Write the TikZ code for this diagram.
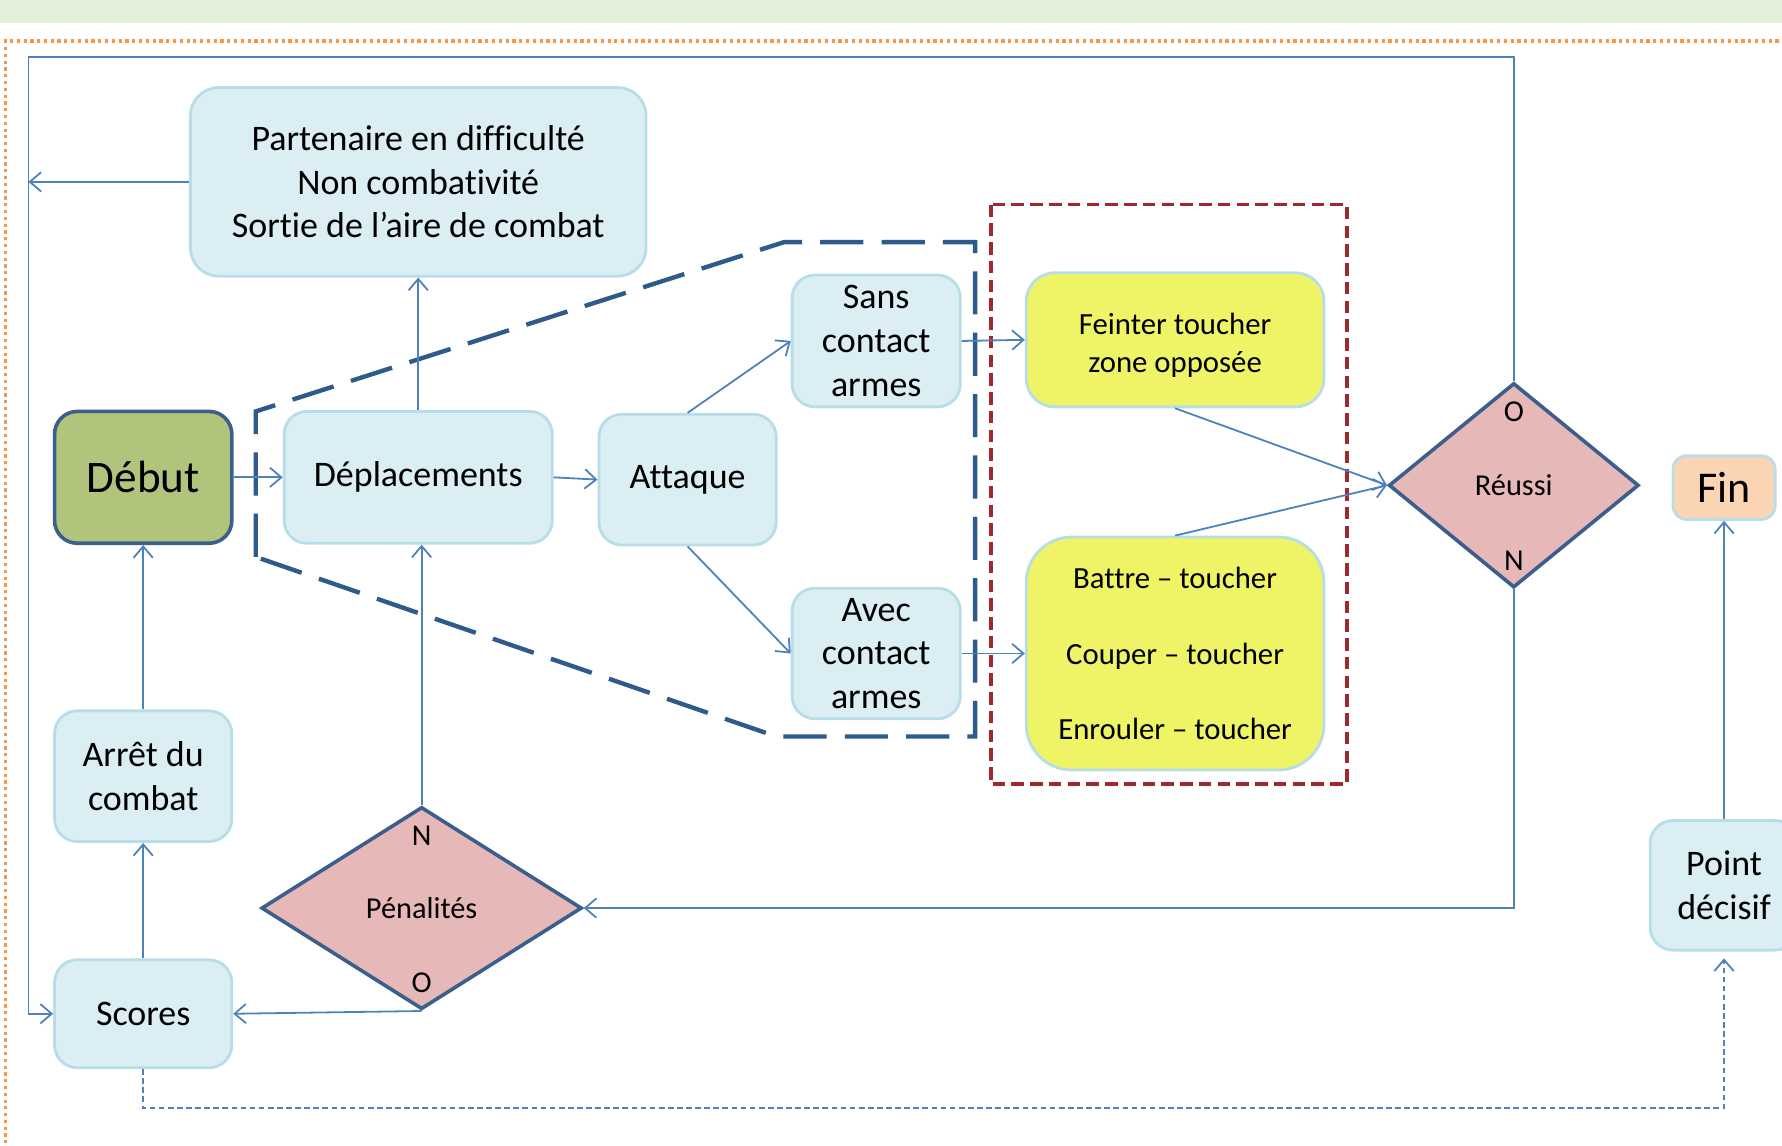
\documentclass[tikz,border=0pt]{standalone}
\usepackage{fontspec}
\setmainfont{Carlito}[Ligatures=CommonOff]
\usetikzlibrary{shapes.geometric,arrows.meta}
\definecolor{boxfill}{HTML}{DAEEF3}
\definecolor{boxline}{HTML}{B7DDE8}
\definecolor{yel}{HTML}{EFF466}
\definecolor{debutc}{HTML}{B1C47C}
\definecolor{darkb}{HTML}{3B5E8C}
\definecolor{pinkc}{HTML}{E6B9B8}
\definecolor{peach}{HTML}{FBD4B4}
\definecolor{conn}{HTML}{4F81BD}
\definecolor{navy}{HTML}{2F5B8C}
\definecolor{dred}{HTML}{A3282E}
\definecolor{orng}{HTML}{F79646}
\definecolor{band}{HTML}{E3EFD9}
\begin{document}
\begin{tikzpicture}[x=0.1mm,y=-0.1mm,
  bbox/.style={draw=boxline, fill=boxfill, line width=0.7pt, rounded corners=2mm, inner sep=0pt, align=center, font=\fontsize{9}{10.9}\selectfont},
  ybox/.style={draw=boxline, fill=yel, line width=0.7pt, rounded corners=2.5mm, inner sep=0pt, align=center, font=\fontsize{7.7}{9.4}\selectfont},
  dia/.style={diamond, draw=darkb, fill=pinkc, line width=0.9pt, inner sep=0pt, font=\fontsize{7.6}{9}\selectfont},
  lbl/.style={inner sep=0pt, font=\fontsize{7.6}{9}\selectfont},
  arr/.style={draw=conn, line width=0.45pt, -{Straight Barb[length=1mm,width=1.7mm]}},
  ln/.style={draw=conn, line width=0.45pt}]
\useasboundingbox (0,0) rectangle (1568,1008);
\fill[band] (0,0) rectangle (1568,20);
\draw[orng, line width=0.9pt, dash pattern=on 0.8pt off 0.9pt] (5,1030) -- (5,36) -- (1590,36);

% frames
\draw[navy, line width=1.1pt, dash pattern=on 3.8mm off 1.6mm] (225,490) -- (225,362) -- (690,213) -- (858,213) -- (858,648) -- (683,648) -- cycle;
\draw[dred, line width=0.9pt, dash pattern=on 1.1mm off 0.55mm] (872,180) rectangle (1185,690);

% nodes
\node[bbox, minimum width=40.1mm, minimum height=16.6mm, rounded corners=2.5mm] (part) at (368,160) {Partenaire en difficulté\\Non combativité\\Sortie de l’aire de combat};
\node[bbox, draw=darkb, line width=0.9pt, fill=debutc, minimum width=15.6mm, minimum height=11.6mm, font=\fontsize{11.3}{13}\selectfont] (debut) at (126,420) {Début};
\node[bbox, minimum width=23.6mm, minimum height=11.6mm] (depl) at (368,420) {Déplacements};
\node[bbox, minimum width=15.6mm, minimum height=11.5mm] (att) at (605,422) {Attaque};
\node[bbox, minimum width=14.8mm, minimum height=11.6mm] (sans) at (771,300) {Sans\\contact\\armes};
\node[bbox, minimum width=14.8mm, minimum height=11.5mm] (avec) at (771,575) {Avec\\contact\\armes};
\node[ybox, minimum width=26.2mm, minimum height=11.8mm, text height=17.5pt] (feint) at (1034,299) {Feinter toucher\\zone opposée};
\node[ybox, minimum width=26.2mm, minimum height=20.5mm, rounded corners=4mm] (battre) at (1034,575) {Battre – toucher\\[9.4pt]Couper – toucher\\[9.4pt]Enrouler – toucher};
\node[dia, minimum width=22mm, minimum height=18mm] (reussi) at (1332,427) {Réussi};
\node[lbl] (ro) at (1332,362) {O};
\node[lbl] (rn) at (1332,493) {N};
\node[bbox, fill=peach, minimum width=9mm, minimum height=5.6mm, rounded corners=1.2mm, font=\fontsize{11}{13}\selectfont] (fin) at (1517,429) {Fin};
\node[bbox, minimum width=15.6mm, minimum height=11.5mm] (arret) at (126,683) {Arrêt du\\combat};
\node[bbox, minimum width=15.6mm, minimum height=9.5mm] (scores) at (126,892) {Scores};
\node[dia, minimum width=28.2mm, minimum height=17.8mm] (pen) at (371,799) {Pénalités};
\node[lbl] (pn) at (371,735) {N};
\node[lbl] (po) at (371,865) {O};
\node[bbox, minimum width=13mm, minimum height=11.4mm] (point) at (1517,779) {Point\\décisif};

\coordinate (tl) at (25,50);
\coordinate (bl) at (126,975);

% connectors
\draw[arr] (debut.east) -- (depl.west);
\draw[arr] (depl.east) -- (att.west);
\draw[arr] (depl.north) -- (part.south);
\draw[arr] (part.west) -- (part.west -| tl);
\draw[arr] (att.north) -- (sans.west);
\draw[arr] (att.south) -- (avec.west);
\draw[arr] (sans.east) -- (feint.west);
\draw[arr] (avec.east) -- (battre.west);
\draw[arr] (feint.south) -- (reussi.west);
\draw[arr] (battre.north) -- (reussi.west);
\draw[arr] (reussi.north) |- (tl) |- (scores.west);
\draw[arr] (reussi.south) |- (pen.east);
\draw[arr] (pen.north) -- (pen.north |- depl.south);
\draw[arr] (pen.south) -- (scores.east);
\draw[arr] (scores.north) -- (arret.south);
\draw[arr] (arret.north) -- (debut.south);
\draw[arr] (point.north) -- (fin.south);
\draw[arr, dash pattern=on 0.5mm off 0.3mm] (scores.south) -- (scores.south |- bl) -| ([yshift=-0.6mm]point.south);
\end{tikzpicture}
\end{document}
